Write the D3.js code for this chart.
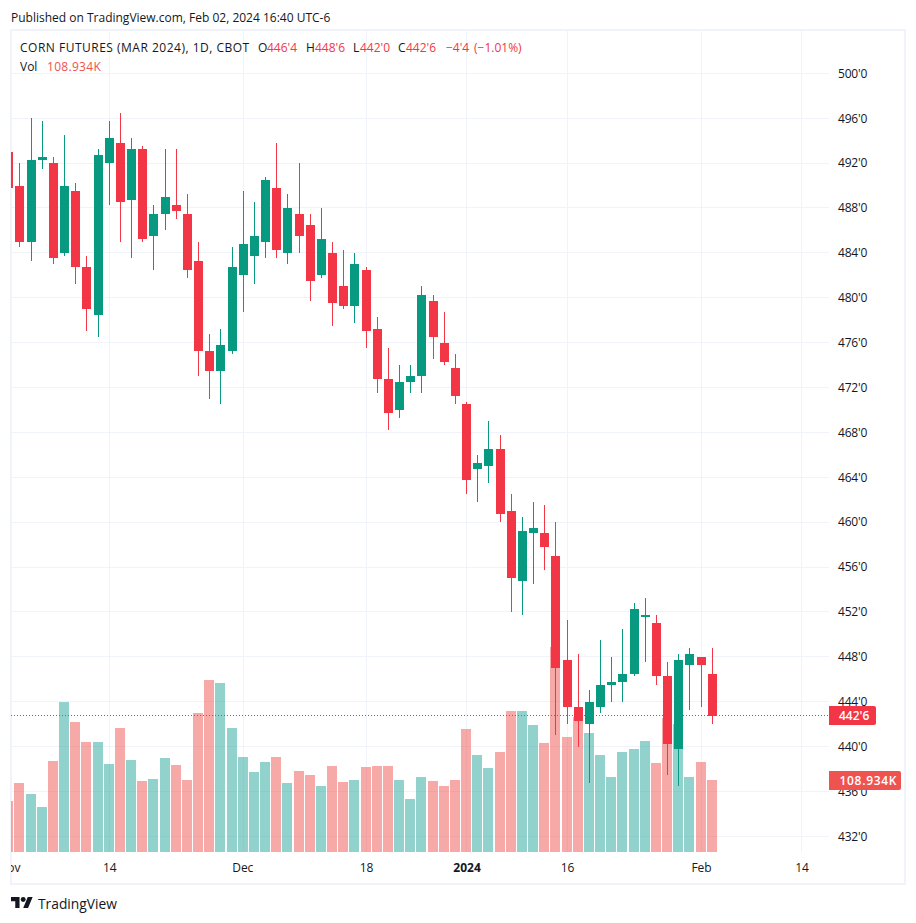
<!DOCTYPE html>
<html>
<head>
<meta charset="utf-8">
<script src="https://cdn.jsdelivr.net/npm/d3@7"></script>
<style>
html,body{margin:0;padding:0;background:#fff;overflow:hidden}
svg{display:block}
text{font-family:"Open Sans",Roboto,sans-serif;fill:#131722}
</style>
</head>
<body>
<svg id="chart" width="916" height="923"></svg>
<script>
const opens  = [493,490,485,492.25,492,484,489.5,482.75,478.5,492,493.75,488.75,493.25,485.5,487.5,488.25,487.5,483.25,475.25,473.5,475.25,482,483.75,485,489.75,484,487.5,486.5,482,484,481,479.25,482.5,477.25,472.75,470,472.5,473,479.75,476,473.75,470.5,464.75,465,466.5,461,454.75,459,459,457,447.75,443.5,442,443.5,445.5,445.75,446.5,451.5,451,446.25,439.75,447.25,448,446.5];
const highs  = [493.5,492,496,495.75,492.5,494.5,490.25,483.75,493.25,495.75,496.5,494.25,493.5,488.25,493.25,493.25,489.25,485,476.75,477.25,484.5,489.5,488.5,490.75,493.75,489.25,492,487.5,488,485,484.25,484,482.75,478.25,475.5,474,474,481,480.25,478.75,475,470.75,466,469,467.75,462.5,460.5,461.75,461.5,460,451.25,448.25,445,449.5,448,450.5,452.75,453.25,451.75,447.5,448.25,448.75,448,448.75];
const lows   = [489.5,484.5,483.25,491.5,483,483.75,481.25,477,476.5,488.25,485,483.5,485,482.5,486,487,481.75,473,471,470.5,475,478.75,481.25,483.5,483.5,483,484,479.75,481.75,477.5,479,477.75,475.5,471.5,468.25,469.25,471.5,471.5,474.5,474,470.5,462.5,461.75,463.5,460,452,451.75,454.5,455.75,441,442,440,436.75,443,444,444,446.25,447.5,445.5,437.5,436.5,443.25,443.5,442];
const closes = [489.75,485,492.25,492.5,483.5,490,482.75,479,492.75,494.25,488.5,493.25,485.25,487.5,489,487.75,482.5,475.25,473.5,475.75,482.75,484.75,485.5,490.5,484.25,488,485.5,481.5,485.25,479.5,479.25,483,477,472.75,469.75,472.5,473,480.25,476.5,474.25,471.25,463.75,465.25,466.5,460.75,455,459.25,459.5,457.75,447,443.5,442.25,444,445.5,445.75,446.5,452.25,451.75,446.25,440.25,447.75,448.25,447.25,442.75];
const volumes = [77.2,104.4,87.8,68.1,137.7,227,196.7,166.4,166.4,133.1,187.6,139.2,107.4,110.4,142.2,131.6,108.9,210.3,260.2,255.7,187.6,143.7,121,136.2,143.7,104.4,122.6,116.5,99.9,130.1,105.9,108.9,128.6,130.1,130.1,108.9,80.2,113.5,107.4,99.9,108.9,186.1,146.8,127.1,151.3,213.3,213.3,192.2,164.9,310.2,174,204.3,180,146.8,113.5,151.3,155.8,167.9,134.7,202.7,193.7,113.5,136.2,108.934];
const priceTicks = [432,436,440,444,448,452,456,460,464,468,472,476,480,484,488,492,496,500];
const timeTickIndex = [0,9,21,32,41,50,62,71];
const timeTickLabels = ["Nov","14","Dec","18","2024","16","Feb","14"];
const lastPrice = 442.75;
const lastPriceLabel = "442'6";
const lastVolume = 108.934;
const lastVolumeLabel = "108.934K";

const UP = "#089981", DOWN = "#F23645";
const svg = d3.select("#chart");
const x = d3.scaleLinear().domain([1,63]).range([19.97,712.2]);
const y = d3.scaleLinear().domain([432,500]).range([836.3,73.3]);
const v = d3.scaleLinear().domain([0,lastVolume]).range([852,780]);
const px = i => Math.floor(x(i));
const isUp = i => closes[i] >= opens[i];
const indices = d3.range(opens.length);

const defs = svg.append("defs");
defs.append("clipPath").attr("id","plot").append("rect").attr("x",11).attr("y",30).attr("width",818).attr("height",822);
defs.append("clipPath").attr("id","timeClip").append("rect").attr("x",11).attr("y",852).attr("width",818).attr("height",32);

// Header line
svg.append("text").attr("x",11).attr("y",21.5).attr("font-size",12).text("Published on TradingView.com, Feb 02, 2024 16:40 UTC-6");

// Grid
const grid = svg.append("g").attr("shape-rendering","crispEdges").attr("stroke","#F0F3FA");
grid.selectAll("line.h").data(priceTicks).join("line").attr("class","h")
  .attr("x1",11).attr("x2",829).attr("y1",d=>Math.floor(y(d))+.5).attr("y2",d=>Math.floor(y(d))+.5);
grid.selectAll("line.v").data(timeTickIndex.slice(1)).join("line").attr("class","v")
  .attr("y1",30).attr("y2",852).attr("x1",d=>px(d)+.5).attr("x2",d=>px(d)+.5);

// Frame
svg.append("rect").attr("x",11).attr("y",30).attr("width",894).attr("height",854)
  .attr("fill","none").attr("stroke","#F0F3FA").attr("stroke-width",2).attr("shape-rendering","crispEdges");

const plot = svg.append("g").attr("clip-path","url(#plot)").attr("shape-rendering","crispEdges");

// Volume
plot.append("g").selectAll("rect").data(indices).join("rect")
  .attr("x",i=>px(i)-5).attr("width",10)
  .attr("y",i=>Math.round(v(volumes[i]))).attr("height",i=>852-Math.round(v(volumes[i])))
  .attr("fill",i=>isUp(i)?"#26A69A":"#EF5350").attr("fill-opacity",.5);

// Wicks
plot.append("g").selectAll("rect").data(indices).join("rect")
  .attr("x",i=>px(i)).attr("width",1)
  .attr("y",i=>Math.round(y(highs[i]))).attr("height",i=>Math.round(y(lows[i]))-Math.round(y(highs[i])))
  .attr("fill",i=>isUp(i)?UP:DOWN);

// Bodies
plot.append("g").selectAll("rect").data(indices).join("rect")
  .attr("x",i=>px(i)-4).attr("width",9)
  .attr("y",i=>Math.round(y(Math.max(opens[i],closes[i]))))
  .attr("height",i=>Math.max(1,Math.round(y(Math.min(opens[i],closes[i])))-Math.round(y(Math.max(opens[i],closes[i])))))
  .attr("fill",i=>isUp(i)?UP:DOWN);

// Last price line
plot.append("line").attr("x1",11).attr("x2",829)
  .attr("y1",Math.floor(y(lastPrice))+.5).attr("y2",Math.floor(y(lastPrice))+.5)
  .attr("stroke",DOWN).attr("stroke-dasharray","1 2");

// Axes
const yAxis = svg.append("g").attr("transform","translate(838,0)")
  .call(d3.axisRight(y).tickValues(priceTicks).tickSize(0).tickPadding(0).tickFormat(d=>d+"'0"));
yAxis.select(".domain").remove();
yAxis.selectAll("text").attr("font-size",12).attr("fill","#131722").style("font-family",'"Open Sans",Roboto,sans-serif').attr("letter-spacing",-0.2);

const xAxis = svg.append("g").attr("clip-path","url(#timeClip)").append("g").attr("transform","translate(0,852)")
  .call(d3.axisBottom(x).tickValues(timeTickIndex).tickSize(0).tickPadding(0).tickFormat((d,i)=>timeTickLabels[i]));
xAxis.select(".domain").remove();
xAxis.selectAll("text").attr("y",20).attr("dy",0).attr("font-size",12).attr("fill","#131722")
  .style("font-family",'"Open Sans",Roboto,sans-serif')
  .attr("dx",d=>d===21?-1:0)
  .attr("font-weight",d=>d===41?700:400);

// Price labels
const labels = [
  {t:lastPriceLabel,box:[829,706,47,19],fill:DOWN,tx:839,ty:720,ls:0},
  {t:lastVolumeLabel,box:[829,771,72,19],fill:"#EF5350",tx:839.5,ty:785,ls:0.7}
];
labels.forEach(l=>{
  svg.append("path").attr("fill",l.fill)
    .attr("d",`M${l.box[0]} ${l.box[1]}h${l.box[2]-2}q2 0 2 2v${l.box[3]-4}q0 2 -2 2h-${l.box[2]-2}z`);
  svg.append("text").attr("x",l.tx).attr("y",l.ty).attr("font-size",12).attr("letter-spacing",l.ls).style("fill","#fff").attr("font-weight",600).text(l.t);
});

// Legend
const red = "#F23645", vred = "#EF5350";
const legend = [
  ["CORN FUTURES (MAR 2024), 1D, CBOT",20,"#131722",0.5],
  ["O",258,"#131722",0],["446'4",267,red,0],
  ["H",306,"#131722",0],["448'6",315,red,0],
  ["L",353,"#131722",0],["442'0",360,red,0],
  ["C",398,"#131722",0],["442'6",406,red,0],
  ["−4'4",446,red,0],["(−1.01%)",474,red,0]
];
legend.forEach(d=>svg.append("text").attr("x",d[1]).attr("y",51.5).attr("font-size",12).attr("letter-spacing",d[3]).style("fill",d[2]).text(d[0]));
svg.append("text").attr("x",20).attr("y",70.5).attr("font-size",12).text("Vol");
svg.append("text").attr("x",47).attr("y",70.5).attr("font-size",12).attr("letter-spacing",0.3).style("fill",vred).text(lastVolumeLabel);

// Footer logo
const logo = svg.append("g").attr("transform","translate(11,894.6) scale(.61)").attr("fill","#131722");
logo.append("path").attr("d","M14 22H7V11H0V4h14v18zM28 22h-8l7.5-18h8L28 22z");
logo.append("circle").attr("cx",20).attr("cy",8).attr("r",4);
svg.append("text").attr("x",38).attr("y",908.5).attr("font-size",13.8).text("TradingView");
</script>
</body>
</html>
